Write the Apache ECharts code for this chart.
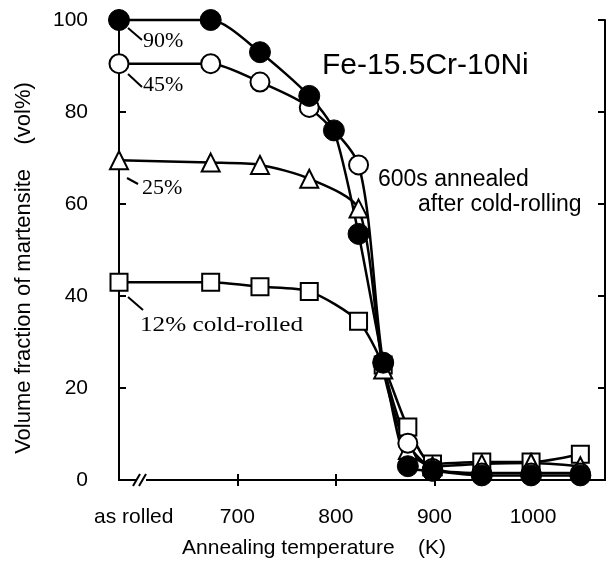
<!DOCTYPE html>
<html>
<head>
<meta charset="utf-8">
<script src="https://cdn.jsdelivr.net/npm/echarts@6/dist/echarts.min.js"></script>
<style>
  html, body { margin: 0; background: #fff; }
  #chart { width: 608px; height: 563px; }
</style>
</head>
<body>
<div id="chart"></div>
<script>
// "as rolled" is plotted at 580 K, on the left edge of the axis
const tempsFilled = [580, 673, 723, 773, 798, 823, 848, 873, 898, 948, 998, 1048];
const tempsOther = [580, 673, 723, 773, 823, 848, 873, 898, 948, 998, 1048];

const cold90 = [100, 100, 93, 83.5, 76, 53.5, 25.5, 3, 2, 1, 1, 1];
const cold45 = [90.5, 90.5, 86.5, 81, 68.5, 25.5, 8, 2.5, 1.5, 1.5, 1.5];
const cold25 = [69.5, 69, 68.5, 65.5, 59, 24, 6.5, 3, 3.5, 3.7, 3];
const cold12 = [43, 43, 42, 41, 34.5, 25, 11.5, 3.5, 3.9, 3.9, 5.6];

const xLabelValues = [595, 700, 800, 900, 1000];
const xLabelTexts = ['as rolled', '700', '800', '900', '1000'];
const xTickValues = [700, 800, 900, 1000];

const sans = 'Liberation Sans';
const serif = 'Liberation Serif';

function pairs(xs, ys) {
  return xs.map((x, i) => [x, ys[i]]);
}

const axisLine = { show: true, lineStyle: { color: '#000', width: 2 } };
const tickStyle = { color: '#000', width: 2 };

function mkSeries(name, xs, ys, symbol, size, filled) {
  return {
    name: name,
    type: 'line',
    data: pairs(xs, ys),
    symbol: symbol,
    symbolSize: size,
    showAllSymbol: true,
    smooth: 0.25,
    clip: false,
    lineStyle: { color: '#000', width: 2.5 },
    itemStyle: filled
      ? { color: '#000', borderColor: '#000', borderWidth: 1 }
      : { color: '#fff', borderColor: '#000', borderWidth: 2 },
    emphasis: { disabled: true },
    animation: false
  };
}

const chart = echarts.init(document.getElementById('chart'));
chart.setOption({
  animation: false,
  grid: { left: 119, right: 3, top: 20, bottom: 83, containLabel: false, outerBoundsMode: 'none' },
  xAxis: [{
    type: 'value', min: 580, max: 1073, position: 'bottom',
    axisLine: axisLine,
    splitLine: { show: false },
    axisTick: { show: true, inside: true, length: 6, customValues: xTickValues, lineStyle: tickStyle },
    axisLabel: {
      customValues: xLabelValues,
      formatter: v => xLabelTexts[xLabelValues.indexOf(v)],
      color: '#000', fontSize: 21, fontFamily: sans, margin: 27
    },
    name: 'Annealing temperature    (K)',
    nameLocation: 'middle',
    nameGap: 58,
    nameTextStyle: { color: '#000', fontSize: 21, fontFamily: sans, padding: [0, 96, 0, 0] }
  }, {
    type: 'value', min: 580, max: 1073, position: 'top',
    axisLine: axisLine,
    splitLine: { show: false },
    axisTick: { show: true, inside: true, length: 6, customValues: xTickValues, lineStyle: tickStyle },
    axisLabel: { show: false }
  }],
  yAxis: [{
    type: 'value', min: 0, max: 100, interval: 20,
    axisLine: axisLine,
    splitLine: { show: false },
    axisTick: { inside: true, length: 7, lineStyle: tickStyle },
    axisLabel: { color: '#000', fontSize: 21, fontFamily: sans, margin: 31 },
    name: 'Volume fraction of martensite    (vol%)',
    nameLocation: 'middle',
    nameGap: 84,
    nameTextStyle: { color: '#000', fontSize: 22, fontFamily: sans, padding: [0, 36, 0, 0] }
  }, {
    type: 'value', min: 0, max: 100, interval: 20, position: 'right',
    axisLine: axisLine,
    splitLine: { show: false },
    axisTick: { inside: true, length: 7, lineStyle: tickStyle },
    axisLabel: { show: false }
  }],
  series: [
    mkSeries('12%', tempsOther, cold12, 'rect', 17, false),
    mkSeries('25%', tempsOther, cold25, 'triangle', 18, false),
    mkSeries('45%', tempsOther, cold45, 'circle', 19, false),
    mkSeries('90%', tempsFilled, cold90, 'circle', 21, true)
  ],
  graphic: [
    { type: 'text', style: { x: 322, y: 66, text: 'Fe-15.5Cr-10Ni', font: '30px ' + sans, fill: '#000', verticalAlign: 'middle' } },
    { type: 'text', style: { x: 378, y: 180, text: '600s annealed', font: '23px ' + sans, fill: '#000', verticalAlign: 'middle' } },
    { type: 'text', style: { x: 418, y: 205, text: 'after cold-rolling', font: '23px ' + sans, fill: '#000', verticalAlign: 'middle' } },
    { type: 'text', style: { x: 143, y: 41, text: '90%', font: '22px ' + serif, fill: '#000', verticalAlign: 'middle' } },
    { type: 'text', style: { x: 143, y: 85, text: '45%', font: '22px ' + serif, fill: '#000', verticalAlign: 'middle' } },
    { type: 'text', style: { x: 142, y: 188, text: '25%', font: '22px ' + serif, fill: '#000', verticalAlign: 'middle' } },
    { type: 'text', x: 140, y: 325, scaleX: 1.2, style: { x: 0, y: 0, text: '12% cold-rolled', font: '21px ' + serif, fill: '#000', verticalAlign: 'middle' } },
    // leader marks
    { type: 'line', shape: { x1: 128, y1: 28, x2: 142, y2: 40 }, style: { stroke: '#000', lineWidth: 2 } },
    { type: 'line', shape: { x1: 128, y1: 74, x2: 142, y2: 87 }, style: { stroke: '#000', lineWidth: 2 } },
    { type: 'line', shape: { x1: 127, y1: 178, x2: 138, y2: 184 }, style: { stroke: '#000', lineWidth: 2 } },
    { type: 'line', shape: { x1: 128, y1: 297, x2: 143, y2: 310 }, style: { stroke: '#000', lineWidth: 2 } },
    // axis break
    { type: 'rect', shape: { x: 136, y: 476, width: 10, height: 8 }, style: { fill: '#fff' }, z: 10 },
    { type: 'line', shape: { x1: 133, y1: 486, x2: 140, y2: 474 }, style: { stroke: '#000', lineWidth: 2 }, z: 11 },
    { type: 'line', shape: { x1: 139, y1: 486, x2: 146, y2: 474 }, style: { stroke: '#000', lineWidth: 2 }, z: 11 }
  ]
});
</script>
</body>
</html>
